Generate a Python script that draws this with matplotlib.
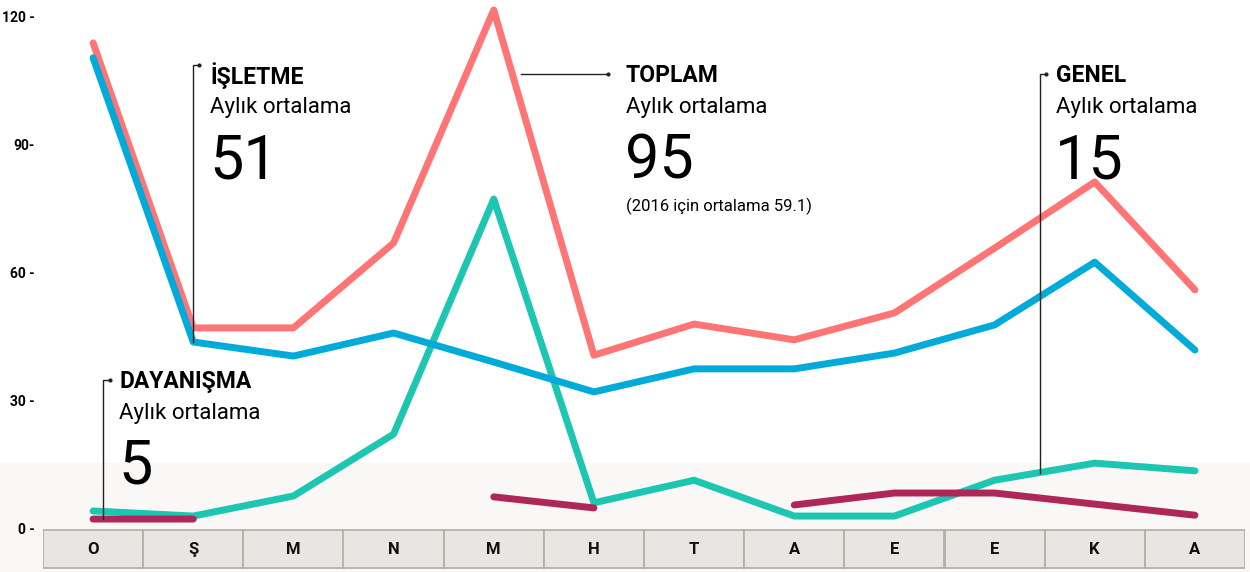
import numpy as np
import matplotlib
matplotlib.use("Agg")
import matplotlib.pyplot as plt
from matplotlib.patches import Rectangle
from matplotlib import font_manager

# Data
months = ["O", "Ş", "M", "N", "M", "H", "T", "A", "E", "E", "K", "A"]
toplam = [113.7, 46.9, 46.9, 66.8, 121.4, 40.5, 47.8, 44.1, 50.4, 65.6, 81.1, 55.8]
isletme = [110.2, 43.6, 40.3, 45.7, 38.9, 31.9, 37.3, 37.3, 41.0, 47.6, 62.3, 41.7]
genel = [4.0, 2.8, 7.5, 22.0, 77.1, 5.9, 11.2, 2.8, 2.8, 11.2, 15.2, 13.4]
dayanisma = [2.1, 2.1, np.nan, np.nan, 7.3, 4.7, np.nan, 5.4, 8.2, 8.2, 5.6, 3.0]
yticks = [0, 30, 60, 90, 120]
ytick_labels = ["0 -", "30 -", "60 -", "90-", "120 -"]

names = {f.name for f in font_manager.fontManager.ttflist}
narrow = "Liberation Sans Narrow" if "Liberation Sans Narrow" in names else "Roboto"
plt.rcParams["font.family"] = [narrow, "DejaVu Sans"]

c_toplam = "#FF7475"
c_isletme = "#00ABDA"
c_genel = "#1DC6B0"
c_day = "#AF2759"

fig = plt.figure(figsize=(12.5, 5.72), dpi=100)
ax = fig.add_axes([43 / 1250, 0, 1202 / 1250, 1])
ax.set_xlim(-0.5, 11.5)
ax.set_ylim(-10.3125, 123.75)
for s in ax.spines.values():
    s.set_visible(False)

# faint background band at the bottom
ax.add_patch(Rectangle((-0.1, 0), 1.2, 0.19, transform=ax.transAxes,
                       facecolor="#F9F8F6", edgecolor="none", zorder=0,
                       clip_on=False))

x = np.arange(len(months))

# month boxes
for i, m in enumerate(months):
    ax.add_patch(Rectangle((i - 0.5, -9.4), 1, 8.9, facecolor="#E8E6E2",
                           edgecolor="#B3ADA3", linewidth=1.2, zorder=2))
    ax.text(i, -4.95, m, ha="center", va="center", fontsize=12,
            fontweight="bold", color="#111111", zorder=3)

lw = 5
ax.plot(x, genel, color=c_genel, lw=lw, solid_capstyle="round", solid_joinstyle="round", zorder=4)
ax.plot(x, dayanisma, color=c_day, lw=lw, solid_capstyle="round", solid_joinstyle="round", zorder=5)
ax.plot(x, toplam, color=c_toplam, lw=lw, solid_capstyle="round", solid_joinstyle="round", zorder=6)
ax.plot(x, isletme, color=c_isletme, lw=lw, solid_capstyle="round", solid_joinstyle="round", zorder=7)

ax.set_xticks([])
ax.set_yticks(yticks)
ax.set_yticklabels(ytick_labels, fontsize=10, fontweight="bold")
ax.tick_params(axis="y", length=0, pad=6)


def bracket(pts, dot):
    xs, ys = zip(*pts)
    ax.plot(xs, ys, color="#222222", lw=1, zorder=8)
    ax.plot([dot[0]], [dot[1]], marker="o", markersize=2, color="#222222", zorder=8)


def label(xp, ytop, title, value, note=None):
    ax.text(xp, ytop, title, fontsize=16.5, fontweight="bold", va="center", zorder=9)
    ax.text(xp, ytop - 7.5, "Aylık ortalama", fontsize=16, va="center", zorder=9)
    ax.text(xp - 0.01, ytop - 20.0, value, fontsize=44, va="center", zorder=9)
    if note:
        ax.text(xp, ytop - 30.6, note, fontsize=12, va="center", zorder=9)


# İŞLETME
bracket([(1.0, isletme[1]), (1.0, 108.4), (1.06, 108.4)], (1.06, 108.4))
label(1.17, 106.0, "İŞLETME", "51")

# TOPLAM
bracket([(4.27, 106.4), (5.14, 106.4)], (5.14, 106.4))
label(5.32, 106.0, "TOPLAM", "95", "(2016 için ortalama 59.1)")

# GENEL
bracket([(9.45, 13.0), (9.45, 106.4), (9.51, 106.4)], (9.51, 106.4))
label(9.61, 106.0, "GENEL", "15")

# DAYANIŞMA
bracket([(0.1, 2.1), (0.1, 34.6), (0.17, 34.6)], (0.17, 34.6))
label(0.26, 34.3, "DAYANIŞMA", "5")

fig.savefig("out.png", dpi=100)
